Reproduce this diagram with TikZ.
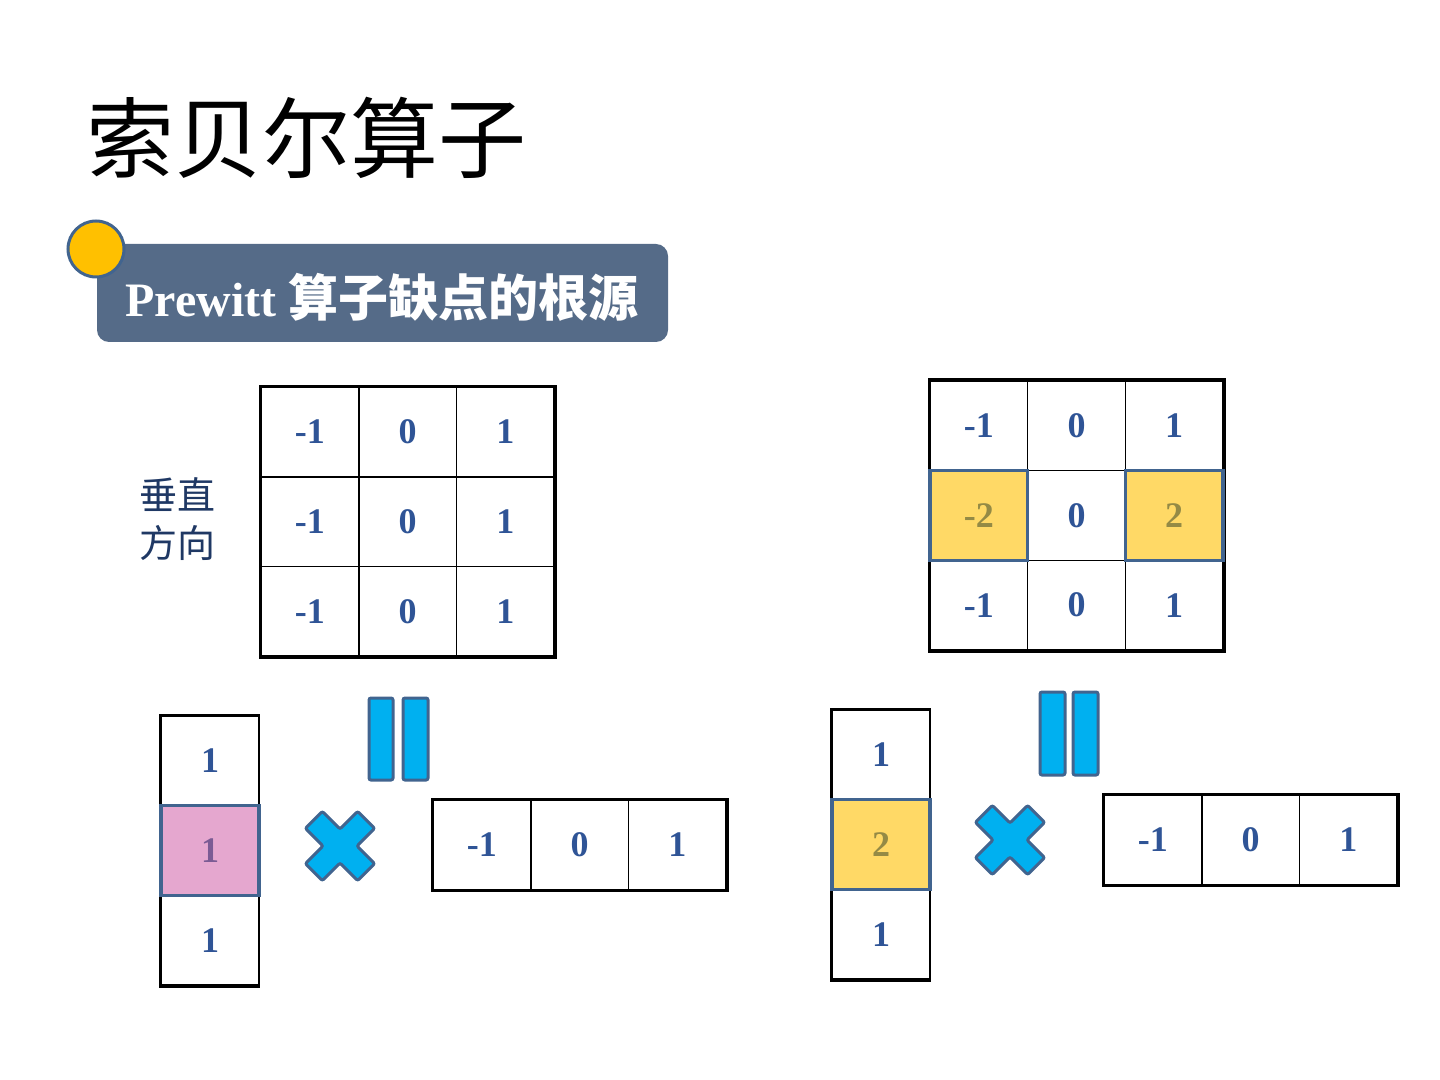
\documentclass[tikz,border=0pt]{standalone}
\usepackage{fontspec}
\setmainfont{Liberation Serif}
\newfontfamily\cjk{Noto Sans CJK SC}

\definecolor{numblue}{HTML}{2F5496}
\definecolor{edgeblue}{HTML}{41648F}
\definecolor{goldfill}{HTML}{FFD966}
\definecolor{goldtext}{HTML}{948A45}
\definecolor{pinkfill}{HTML}{E5A7CF}
\definecolor{pinktext}{HTML}{7B5B94}
\definecolor{barcyan}{HTML}{00B0F0}
\definecolor{slate}{HTML}{556B88}
\definecolor{dotorange}{HTML}{FFC000}
\definecolor{navytext}{HTML}{1F3864}

\begin{document}
\begin{tikzpicture}[
        x=0.5pt, y=-0.5pt,
        cell/.style={
            draw=black,
            line width=0.75pt,
            fill=white,
            minimum width=48.8pt,
            minimum height=44.8pt,
            inner sep=0pt,
            text=numblue,
            font=\fontsize{18}{18}\selectfont\bfseries
        },
        goldcell/.style={cell, draw=edgeblue, line width=1.75pt, fill=goldfill, text=goldtext},
        pinkcell/.style={cell, draw=edgeblue, line width=1.75pt, fill=pinkfill, text=pinktext},
        frame/.style={draw=black, line width=1.75pt},
        bar/.style={draw=edgeblue, line width=1.5pt, fill=barcyan, rounded corners=1pt},
        crossmark/.style={draw=edgeblue, line width=1.5pt, fill=barcyan, rounded corners=1pt}
    ]

    \useasboundingbox (0,0) rectangle (1440,1080);

    % Titel
    \node[anchor=west, inner sep=0pt, font=\cjk\fontsize{44}{44}\selectfont] (title) at (86,138) {索贝尔算子};

    % Banner
    \node[fill=slate, rounded corners=6pt, minimum width=285.5pt, minimum height=49pt] (band) at (382.5,293) {};
    \node[circle, draw=edgeblue, line width=1.5pt, fill=dotorange, minimum size=28pt] (dot) at (96,249) {};
    \node[inner sep=0pt, text=white, font=\fontsize{24}{24}\selectfont] (sub) at (382,297)
        {\textbf{Prewitt} {\cjk\bfseries\fontsize{25}{25}\selectfont 算子缺点的根源}};

    \node[anchor=west, inner sep=0pt, align=left, text=navytext,
          font=\cjk\fontsize{19}{24}\selectfont] (dir) at (139,519) {垂直\\方向};

    % Prewitt 3x3
    \foreach \r in {1,2,3}
        \foreach \v [count=\c] in {-1,0,1}
            \node[cell] (L\r\c) at ({212.2+97.7*\c}, {342.2+89.7*\r}) {\v};
    \draw[frame] (L11.north west) rectangle (L33.south east);

    % Sobel 3x3
    \foreach \r in {1,3}
        \foreach \v [count=\c] in {-1,0,1}
            \node[cell] (R\r\c) at ({881.1+97.7*\c}, {336.1+89.7*\r}) {\v};
    \node[cell] (R22) at (1076.5,515.5) {0};
    \draw[frame] (R11.north west) rectangle (R33.south east);
    \node[goldcell] (R21) at (978.8,515.5) {-2};
    \node[goldcell] (R23) at (1174.2,515.5) {2};

    % links unten
    \node[cell] (A1) at (210,760.8) {1};
    \node[cell] (A3) at (210,940.2) {1};
    \draw[frame] (A1.north east) -- (A1.north west) -- (A3.south west) -- (A3.south east);
    \node[pinkcell] (A2) at (210,850.5) {1};

    \foreach \v [count=\c] in {-1,0,1}
        \node[cell] (B\c) at ({433.0+97.7*\c-48.8}, 845) {\v};
    \draw[frame] (B1.north west) rectangle (B3.south east);

    \draw[bar] (369,698) rectangle (393,780);
    \draw[bar] (403,698) rectangle (428,780);
    \begin{scope}[shift={(340,846)}, rotate=45]
        \draw[crossmark] (-12,-37) -- (12,-37) -- (12,-12) -- (37,-12) -- (37,12) -- (12,12)
            -- (12,37) -- (-12,37) -- (-12,12) -- (-37,12) -- (-37,-12) -- (-12,-12) -- cycle;
    \end{scope}

    % rechts unten
    \node[cell] (C1) at (881,754.8) {1};
    \node[cell] (C3) at (881,934.2) {1};
    \draw[frame] (C1.north east) -- (C1.north west) -- (C3.south west) -- (C3.south east);
    \node[goldcell] (C2) at (881,844.5) {2};

    \foreach \v [count=\c] in {-1,0,1}
        \node[cell] (D\c) at ({1104.0+97.7*\c-48.8}, 840) {\v};
    \draw[frame] (D1.north west) rectangle (D3.south east);

    \draw[bar] (1040,692) rectangle (1065,775);
    \draw[bar] (1073,692) rectangle (1098,775);
    \begin{scope}[shift={(1010,840)}, rotate=45]
        \draw[crossmark] (-12,-37) -- (12,-37) -- (12,-12) -- (37,-12) -- (37,12) -- (12,12)
            -- (12,37) -- (-12,37) -- (-12,12) -- (-37,12) -- (-37,-12) -- (-12,-12) -- cycle;
    \end{scope}

\end{tikzpicture}
\end{document}
